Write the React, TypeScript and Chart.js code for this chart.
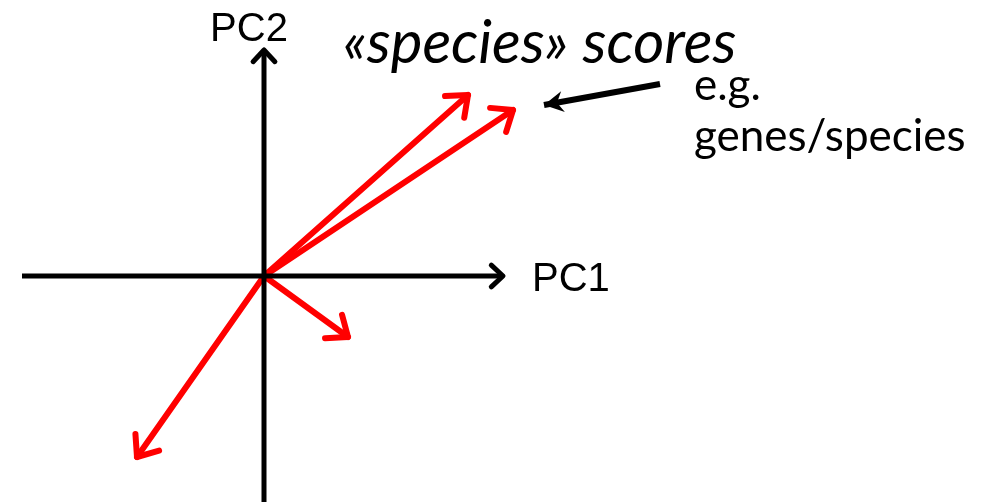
import React, { useEffect, useRef } from "react";
import { Chart, registerables } from "chart.js";

Chart.register(...registerables);

// Species score vectors (PC1, PC2)
const scoreNames = ["species A", "species B", "species C", "species D"];
const scorePC1 = [2.04, 2.49, 0.84, -1.27];
const scorePC2 = [1.81, 1.66, -0.61, -1.81];

// Axis extents
const pc1Range = [-2.42, 2.39];
const pc2Range = [-2.4, 2.26];

// Pointer arrow (from label to scores)
const pointerPC1 = [3.96, 2.8];
const pointerPC2 = [1.92, 1.71];

const axisTitles = ["PC1", "PC2"];
const titleText = "«species» scores";
const noteLines = ["e.g.", "genes/species"];

const annotationPlugin = {
  id: "arrowsAndText",
  afterDatasetsDraw(chart: any) {
    const ctx = chart.ctx;
    chart.data.datasets.forEach((ds: any, i: number) => {
      const meta = chart.getDatasetMeta(i);
      const pts = meta.data;
      if (!pts || pts.length < 2) return;
      const a = pts[pts.length - 2];
      const b = pts[pts.length - 1];
      const ang = Math.atan2(b.y - a.y, b.x - a.x);
      const len = ds.headLen || 18;
      const spread = ds.headSpread || 0.7;
      ctx.save();
      ctx.strokeStyle = ds.borderColor;
      ctx.fillStyle = ds.borderColor;
      ctx.lineWidth = ds.borderWidth;
      ctx.lineCap = "round";
      ctx.lineJoin = "round";
      if (ds.headType === "filled") {
        ctx.beginPath();
        ctx.moveTo(b.x, b.y);
        ctx.lineTo(b.x - len * Math.cos(ang - spread), b.y - len * Math.sin(ang - spread));
        ctx.lineTo(b.x - len * 0.6 * Math.cos(ang), b.y - len * 0.6 * Math.sin(ang));
        ctx.lineTo(b.x - len * Math.cos(ang + spread), b.y - len * Math.sin(ang + spread));
        ctx.closePath();
        ctx.fill();
      } else {
        ctx.beginPath();
        ctx.moveTo(b.x - len * Math.cos(ang - spread), b.y - len * Math.sin(ang - spread));
        ctx.lineTo(b.x, b.y);
        ctx.lineTo(b.x - len * Math.cos(ang + spread), b.y - len * Math.sin(ang + spread));
        ctx.stroke();
      }
      ctx.restore();
    });
  },
  afterDraw(chart: any) {
    const ctx = chart.ctx;
    const xs = chart.scales.x;
    const ys = chart.scales.y;
    ctx.save();
    ctx.fillStyle = "#000";
    ctx.textBaseline = "alphabetic";
    ctx.textAlign = "left";
    ctx.font = '40px "Liberation Sans", Arial, sans-serif';
    ctx.fillText(axisTitles[0], xs.getPixelForValue(pc1Range[1]) + 29, ys.getPixelForValue(0) + 15);
    ctx.textAlign = "center";
    ctx.fillText(axisTitles[1], xs.getPixelForValue(0) - 15, 41);
    ctx.textAlign = "left";
    ctx.font = 'italic 60px Lato, "Open Sans", sans-serif';
    ctx.fillText(titleText, 343, 63);
    ctx.font = '44px Lato, "Open Sans", sans-serif';
    ctx.fillText(noteLines[0], 694, 100);
    ctx.fillText(noteLines[1], 694, 151);
    ctx.restore();
  },
};

export default function App() {
  const ref = useRef<HTMLCanvasElement | null>(null);
  useEffect(() => {
    if (!ref.current) return;
    const scoreSets = scoreNames.map((name, i) => ({
      label: name,
      data: [
        { x: 0, y: 0 },
        { x: scorePC1[i], y: scorePC2[i] },
      ],
      borderColor: "#ff0000",
      borderWidth: 6,
      borderCapStyle: "round",
      showLine: true,
      pointRadius: 0,
      headType: "open",
      headLen: 23,
      headSpread: 0.68,
    }));
    const chart = new Chart(ref.current, {
      type: "scatter",
      data: {
        datasets: [
          {
            label: axisTitles[0],
            data: [
              { x: pc1Range[0], y: 0 },
              { x: pc1Range[1], y: 0 },
            ],
            borderColor: "#000",
            borderWidth: 5,
            showLine: true,
            pointRadius: 0,
            headType: "open",
            headLen: 16,
            headSpread: 0.75,
          } as any,
          {
            label: axisTitles[1],
            data: [
              { x: 0, y: pc2Range[0] },
              { x: 0, y: pc2Range[1] },
            ],
            borderColor: "#000",
            borderWidth: 5,
            showLine: true,
            pointRadius: 0,
            headType: "open",
            headLen: 16,
            headSpread: 0.75,
          },
          ...scoreSets,
          {
            label: "pointer",
            data: [
              { x: pointerPC1[0], y: pointerPC2[0] },
              { x: pointerPC1[1], y: pointerPC2[1] },
            ],
            borderColor: "#000",
            borderWidth: 6,
            showLine: true,
            pointRadius: 0,
            headType: "filled",
            headLen: 22,
            headSpread: 0.5,
          },
        ] as any,
      },
      options: {
        animation: false,
        responsive: false,
        maintainAspectRatio: false,
        layout: { padding: 0 },
        plugins: { legend: { display: false }, tooltip: { enabled: false } },
        scales: {
          x: { type: "linear", min: -2.64, max: 7.24, display: false },
          y: { type: "linear", min: -2.26, max: 2.76, display: false },
        },
      },
      plugins: [annotationPlugin],
    });
    return () => chart.destroy();
  }, []);
  return (
    <div style={{ position: "fixed", left: 0, top: 0, width: 988, height: 502, background: "#fff" }}>
      <canvas ref={ref} width={988} height={502} style={{ width: 988, height: 502, display: "block" }} />
    </div>
  );
}
